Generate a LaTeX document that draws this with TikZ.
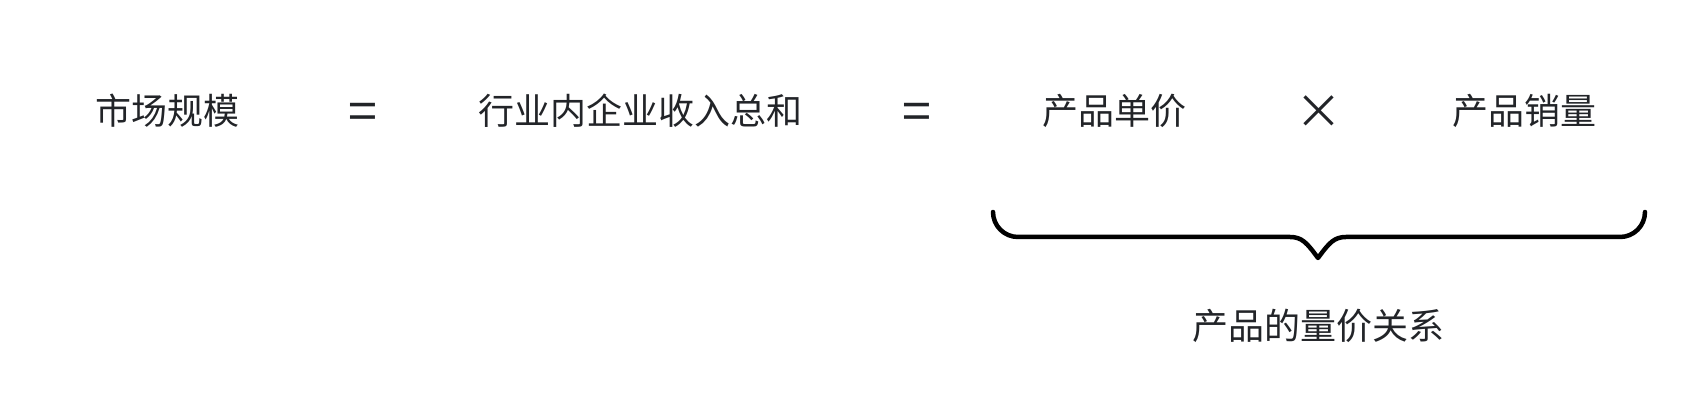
\documentclass[tikz,border=0pt]{standalone}
\usepackage{fontspec}
\setmainfont{Noto Sans CJK SC}
\usetikzlibrary{positioning}
\definecolor{termgray}{RGB}{34,36,40}

\begin{document}
\begin{tikzpicture}[
    x=0.5pt, y=0.5pt,
    term/.style={inner sep=0pt, text=termgray,
                 font=\fontsize{18}{22}\selectfont},
    eqop/.style={term, font=\fontsize{26}{28}\selectfont},
    timesop/.style={term, font=\fontsize{23.5}{26}\selectfont},
    bracket/.style={line width=2.25pt, line cap=round, line join=round, black}
]
  \useasboundingbox (0,0) rectangle (1694,400);

  % Formula row
  \node[term] (market) at (167,289) {市场规模};
  \node[eqop] (eq1) at (363,283) {=};
  \node[term] (revenue) at (640,289) {行业内企业收入总和};
  \node[eqop] (eq2) at (917,283) {=};
  \node[term] (price) at (1114,289) {产品单价};
  \node[timesop] (times) at (1319,288) {×};
  \node[term] (volume) at (1524,289) {产品销量};

  % Brace under price x volume
  \coordinate (bl) at (993,188);
  \coordinate (br) at (1645,188);
  \coordinate (tip) at (1318,142);
  \draw[bracket] (bl) arc[start angle=180, end angle=270, radius=25]
     -- (1290,163) .. controls (1302,163) and (1307,157) .. (tip)
     .. controls (1329,157) and (1334,163) .. (1346,163)
     -- (1620,163) arc[start angle=270, end angle=360, radius=25];

  \node[term] (relation) at (1318,74) {产品的量价关系};

\end{tikzpicture}
\end{document}
